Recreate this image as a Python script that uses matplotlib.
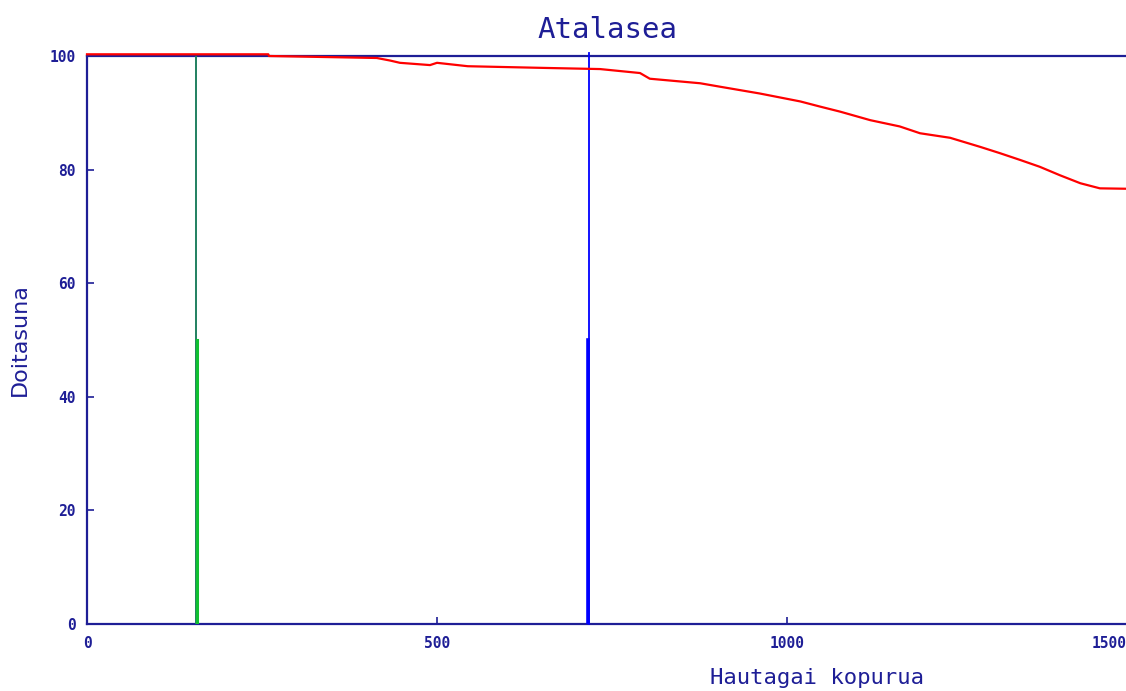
import numpy as np
import matplotlib.pyplot as plt
from matplotlib.transforms import ScaledTranslation

navy = '#1e1e96'

# red precision curve
cand = [0, 259, 260, 414, 433, 447, 490, 500, 544, 654, 733, 790, 804, 876, 904,
        961, 1019, 1047, 1076, 1119, 1161, 1190, 1233, 1276, 1304, 1333, 1361,
        1390, 1419, 1447, 1500]
prec = [100.3, 100.3, 100, 99.65, 99.2, 98.8, 98.4, 98.8, 98.2, 97.9, 97.7, 97.0,
        96.0, 95.2, 94.6, 93.4, 92.0, 91.1, 90.2, 88.7, 87.6, 86.4, 85.6, 84.0,
        82.9, 81.7, 80.5, 79.0, 77.6, 76.7, 76.6]

# vertical markers
green_x = 156
blue_x = 717
marker_top = 100.6
marker_half = 50

fig = plt.figure(figsize=(11.26, 6.91), dpi=100)
ax = fig.add_axes([87 / 1126, 67 / 691, 1050 / 1126, 568 / 691])

ax.plot(cand, prec, color='#ff0000', linewidth=1.6, clip_on=False, zorder=5)

# green marker: thin dark line full height, thick bright part to 50
ax.plot([green_x, green_x], [0, 100], color='#208060', linewidth=1.4, zorder=3)
ax.plot([green_x + 0.8, green_x + 0.8], [0, marker_half], color='#10c030',
        linewidth=2.2, zorder=4)

# blue marker
ax.plot([blue_x, blue_x], [0, marker_top], color='#0000ff', linewidth=1.3,
        clip_on=False, zorder=3)
ax.plot([blue_x - 0.8, blue_x - 0.8], [0, marker_half], color='#0000ff',
        linewidth=2.6, zorder=4)

ax.set_xlim(0, 1500)
ax.set_ylim(0, 100)

for side in ['left', 'bottom', 'top']:
    ax.spines[side].set_color(navy)
    ax.spines[side].set_linewidth(1.6)
ax.spines['right'].set_visible(False)

ax.set_xticks([0, 500, 1000, 1500])
ax.set_yticks([0, 20, 40, 60, 80, 100])
ax.tick_params(direction='in', length=5, width=1.2, color=navy,
               labelcolor=navy, labelsize=10.5)
ax.tick_params(axis='x', pad=9)
ax.tick_params(axis='y', pad=8)
for lab in ax.get_xticklabels() + ax.get_yticklabels():
    lab.set_fontfamily('DejaVu Sans Mono')
    lab.set_fontweight('bold')

# last x label sits a bit left in the original, partly cut at the edge
last = ax.get_xticklabels()[-1]
last.set_transform(last.get_transform() +
                   ScaledTranslation(-0.28, 0, fig.dpi_scale_trans))

ax.set_title('Atalasea', fontsize=21, color=navy, family='DejaVu Sans Mono',
             x=0.496, pad=13)
ax.set_xlabel('Hautagai kopurua', fontsize=16, color=navy,
              family='DejaVu Sans Mono', va='center')
ax.xaxis.set_label_coords(0.695, -0.095)
ax.set_ylabel('Doitasuna', fontsize=16, color=navy, family='DejaVu Sans',
              va='center')
ax.yaxis.set_label_coords(-0.064, 0.5)

fig.savefig('out.png', dpi=100)
